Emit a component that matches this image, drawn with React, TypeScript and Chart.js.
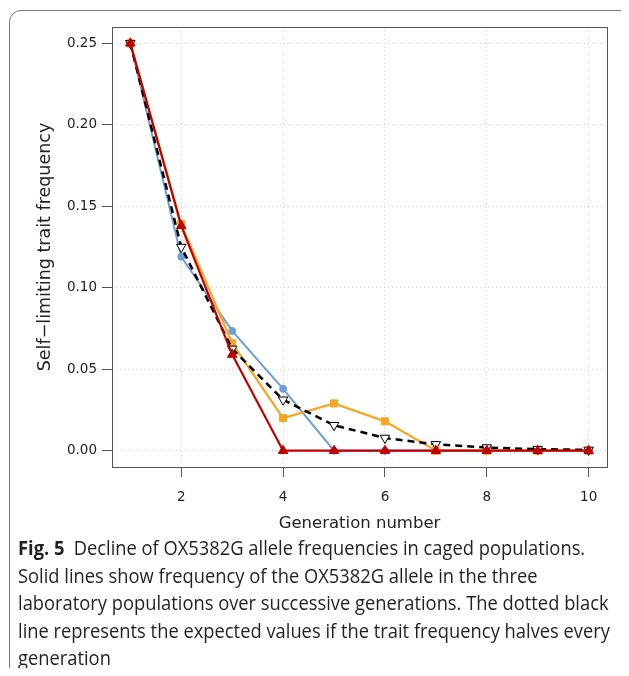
import React, { useEffect, useRef } from "react";
import { Chart, registerables } from "chart.js";

Chart.register(...registerables);

// ---- data ----
const generations = [1, 2, 3, 4, 5, 6, 7, 8, 9, 10];
const blueValues = [0.25, 0.119, 0.0735, 0.038, 0, 0, 0, 0, 0, 0];
const orangeValues = [0.25, 0.139, 0.066, 0.02, 0.029, 0.018, 0, 0, 0, 0];
const redValues = [0.25, 0.138, 0.059, 0, 0, 0, 0, 0, 0, 0];
const expectedValues = [
  0.25, 0.125, 0.0625, 0.03125, 0.015625, 0.0078125, 0.00390625, 0.001953125,
  0.0009765625, 0.00048828125,
];
const xTickValues = [2, 4, 6, 8, 10];
const yTickValues = [0, 0.05, 0.1, 0.15, 0.2, 0.25];
const xAxisTitle = "Generation number";
const yAxisTitle = "Self\u2212limiting trait frequency";
const captionLabel = "Fig. 5";
const captionFirst = "Decline of OX5382G allele frequencies in caged populations.";
const captionRest = [
  "Solid lines show frequency of the OX5382G allele in the three",
  "laboratory populations over successive generations. The dotted black",
  "line represents the expected values if the trait frequency halves every",
  "generation",
];

const toPoints = (vals: number[]) => vals.map((v, i) => ({ x: generations[i], y: v }));

const boxPlugin = {
  id: "plotBox",
  afterDraw(chart: any) {
    const { ctx, chartArea: a } = chart;
    ctx.save();
    ctx.strokeStyle = "#555";
    ctx.lineWidth = 1;
    ctx.setLineDash([]);
    ctx.strokeRect(Math.round(a.left) + 0.5, Math.round(a.top) + 0.5, Math.round(a.right - a.left), Math.round(a.bottom - a.top));
    ctx.restore();
  },
};

const tickFont = { family: "DejaVu Sans", size: 13.5 };
const titleFont = { family: "DejaVu Sans", size: 16.5 };

export default function App() {
  const canvasRef = useRef<HTMLCanvasElement | null>(null);
  const captionRef = useRef<HTMLDivElement | null>(null);

  useEffect(() => {
    document.body.style.overflow = "hidden";
    if (!canvasRef.current) return;
    const chart = new Chart(canvasRef.current, {
      type: "line",
      data: {
        datasets: [
          {
            label: "Population 3",
            data: toPoints(redValues),
            borderColor: "#c00000",
            backgroundColor: "#c00000",
            borderWidth: 2.2,
            pointStyle: "triangle",
            pointRadius: 5.5,
            pointBorderWidth: 1,
            pointBorderColor: "#c00000",
            pointBackgroundColor: "#c00000",
          },
          {
            label: "Expected",
            data: toPoints(expectedValues),
            borderColor: "#000",
            backgroundColor: "#fff",
            borderWidth: 2.5,
            borderDash: [7, 5],
            pointStyle: "triangle",
            rotation: 180,
            pointRadius: 5.5,
            pointBorderWidth: 1,
            pointBorderColor: "#000",
            pointBackgroundColor: "#fff",
          },
          {
            label: "Population 2",
            data: toPoints(orangeValues),
            borderColor: "#f5a623",
            backgroundColor: "#f5a623",
            borderWidth: 2.2,
            pointStyle: "rect",
            pointRadius: 5,
            pointBorderWidth: 1,
            pointBorderColor: "#f5a623",
            pointBackgroundColor: "#f5a623",
          },
          {
            label: "Population 1",
            data: toPoints(blueValues),
            borderColor: "#6d9eda",
            backgroundColor: "#6d9eda",
            borderWidth: 2,
            pointStyle: "circle",
            pointRadius: 3.5,
            pointBorderWidth: 1,
            pointBorderColor: "#6d9eda",
            pointBackgroundColor: "#6d9eda",
          },
        ],
      },
      options: {
        animation: false,
        responsive: false,
        events: [],
        layout: { padding: { top: 27, right: 22, left: 0, bottom: 0 } },
        plugins: { legend: { display: false }, tooltip: { enabled: false } },
        scales: {
          x: {
            type: "linear",
            min: 0.64,
            max: 10.36,
            afterBuildTicks: (scale: any) => {
              scale.ticks = xTickValues.map((v) => ({ value: v }));
            },
            afterFit: (scale: any) => {
              scale.height = 73;
            },
            ticks: {
              font: tickFont,
              color: "#222",
              padding: 12,
              maxRotation: 0,
              autoSkip: false,
              callback: (v: any) => String(v),
            },
            grid: {
              color: "#d2d2d2",
              lineWidth: 1,
              tickLength: 10,
              tickColor: "#555",
              tickWidth: 1,
              tickBorderDash: [],
            },
            border: { display: false, dash: [1, 3] },
            title: {
              display: true,
              text: xAxisTitle,
              font: titleFont,
              color: "#222",
              padding: { top: 0, bottom: 6 },
            },
          },
          y: {
            type: "linear",
            min: -0.01,
            max: 0.26,
            afterBuildTicks: (scale: any) => {
              scale.ticks = yTickValues.map((v) => ({ value: v }));
            },
            afterFit: (scale: any) => {
              scale.width = 112;
            },
            ticks: {
              font: tickFont,
              color: "#222",
              padding: 5,
              autoSkip: false,
              callback: (v: any) => Number(v).toFixed(2),
            },
            grid: {
              color: "#d2d2d2",
              lineWidth: 1,
              tickLength: 10,
              tickColor: "#555",
              tickWidth: 1,
              tickBorderDash: [],
            },
            border: { display: false, dash: [1, 3] },
            title: {
              display: true,
              text: yAxisTitle,
              font: { family: "DejaVu Sans", size: 17.5 },
              color: "#222",
              padding: { top: 35, bottom: 0 },
            },
          },
        },
      },
      plugins: [boxPlugin],
    } as any);
    return () => chart.destroy();
  }, []);

  useEffect(() => {
    const el = captionRef.current;
    if (!el) return;
    const spans = Array.from(el.querySelectorAll("span.cl")) as HTMLSpanElement[];
    const widest = Math.max(...spans.map((s) => s.offsetWidth));
    if (widest > 0) {
      el.style.transform = `scaleX(${592 / widest})`;
    }
  }, []);

  return (
    <div style={{ position: "relative", width: 621, height: 660 }}>
      <div
        style={{
          position: "absolute",
          left: 1,
          top: 2,
          width: 624,
          height: 668,
          boxSizing: "border-box",
          border: "1.5px solid #777",
          borderRadius: 12,
        }}
      />
      <canvas
        ref={canvasRef}
        width={629}
        height={540}
        style={{ position: "absolute", left: -8, top: -8, width: 629, height: 540 }}
      />
      <div
        ref={captionRef}
        style={{
          position: "absolute",
          left: 10,
          top: 526,
          transformOrigin: "0 0",
          fontFamily: "'Open Sans', 'Noto Sans', sans-serif",
          fontSize: 20,
          lineHeight: "27.5px",
          color: "#231f20",
          whiteSpace: "nowrap",
        }}
      >
        <div>
          <span className="cl" style={{ display: "inline-block" }}>
            <b>{captionLabel}</b>
            {"\u2002" + captionFirst}
          </span>
        </div>
        {captionRest.map((line, i) => (
          <div key={i}>
            <span className="cl" style={{ display: "inline-block" }}>{line}</span>
          </div>
        ))}
      </div>
    </div>
  );
}
